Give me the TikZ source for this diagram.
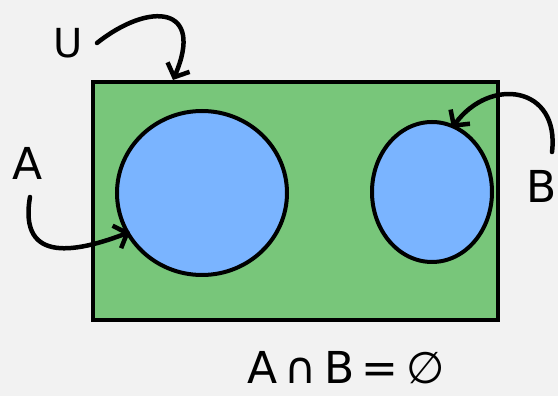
\documentclass[tikz,border=0pt]{standalone}
\usepackage{fontspec}
\setmainfont{DejaVu Sans}
\usetikzlibrary{shapes.geometric,arrows.meta}
\definecolor{bgc}{HTML}{F2F2F2}
\definecolor{setgreen}{HTML}{78C67A}
\definecolor{setblue}{HTML}{7AB4FF}
\tikzset{
  outline/.style={draw=black,line width=4pt},
  setcircle/.style={ellipse,outline,fill=setblue,inner sep=0pt},
  lbl/.style={font=\fontsize{44}{50}\selectfont,inner sep=0pt},
  pointer/.style={line width=4.5pt,line cap=round,-{Straight Barb[length=11pt,width=24pt,line width=4.5pt]}}
}
\begin{document}
\begin{tikzpicture}[x=1pt,y=1pt]
\fill[bgc] (0,0) rectangle (558,396);
\useasboundingbox (0,0) rectangle (558,396);
\node[outline,fill=setgreen,rectangle,minimum width=405pt,minimum height=238pt,inner sep=0pt,line width=3.5pt] (U) at (295.5,195) {};
\node[setcircle,minimum width=170pt,minimum height=164pt] (A) at (202,203) {};
\node[setcircle,minimum width=120pt,minimum height=140pt] (B) at (432,204) {};
\node[lbl,font=\fontsize{40}{46}\selectfont] (Ul) at (68,353) {U};
\node[lbl] (Al) at (28,233) {A};
\node[lbl] (Bl) at (542,210) {B};
\node[lbl,font=\fontsize{44}{50}\selectfont] (eq) at (346,28) {A\,∩\,B\,=\,∅};
\coordinate (Us) at (97,353);
\coordinate (As) at (30,199);
\coordinate (Bs) at (552,244);
\draw[pointer] (Us) .. controls (150,395) and (205,390) .. (173,316);
\draw[pointer] (As) .. controls (18,130) and (80,145) .. (130,164);
\draw[pointer] (Bs) .. controls (560,310) and (490,320) .. (452,268);
\end{tikzpicture}
\end{document}
